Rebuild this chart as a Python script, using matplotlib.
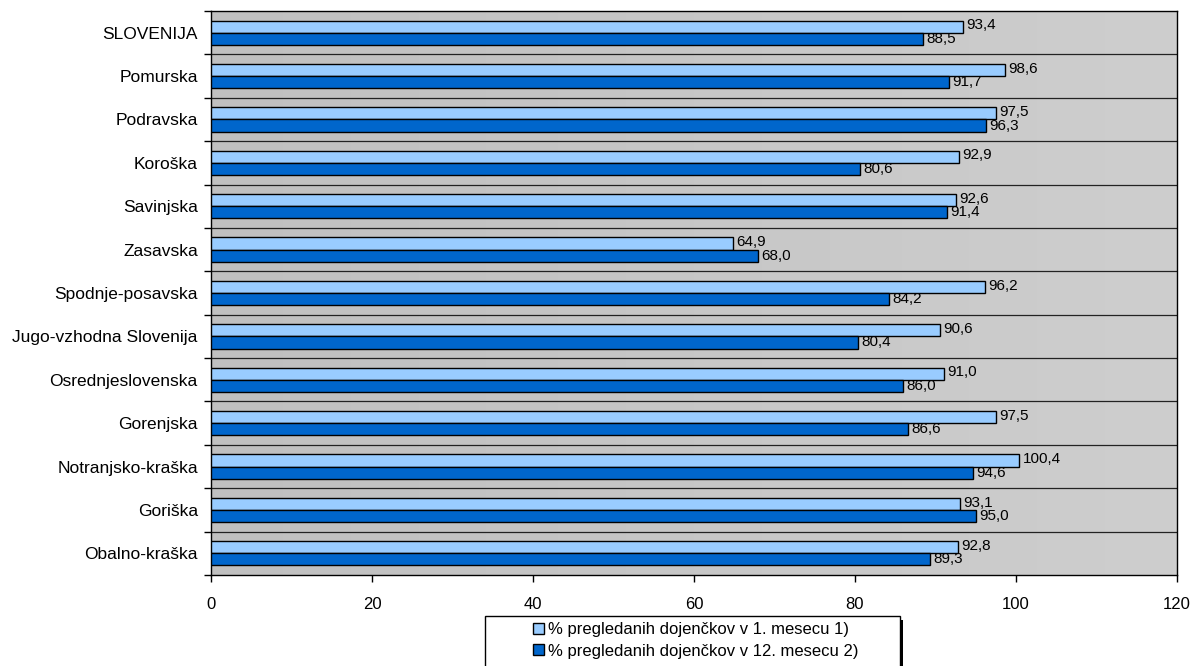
import numpy as np
import matplotlib.pyplot as plt
from matplotlib.patches import Rectangle, Patch
from matplotlib.colors import LinearSegmentedColormap

# --- DATA ---
regions = ['SLOVENIJA', 'Pomurska', 'Podravska', 'Koroška', 'Savinjska', 'Zasavska',
           'Spodnje-posavska', 'Jugo-vzhodna Slovenija', 'Osrednjeslovenska',
           'Gorenjska', 'Notranjsko-kraška', 'Goriška', 'Obalno-kraška']
month1 = [93.4, 98.6, 97.5, 92.9, 92.6, 64.9, 96.2, 90.6, 91.0, 97.5, 100.4, 93.1, 92.8]
month12 = [88.5, 91.7, 96.3, 80.6, 91.4, 68.0, 84.2, 80.4, 86.0, 86.6, 94.6, 95.0, 89.3]
series_names = ['% pregledanih dojenčkov v 1. mesecu 1)',
                '% pregledanih dojenčkov v 12. mesecu 2)']
xticks = [0, 20, 40, 60, 80, 100, 120]
# --------------

LIGHT = '#99CCFF'
DARK = '#0066CC'

plt.rcParams['font.family'] = ['Liberation Sans', 'DejaVu Sans']

W, H = 1195, 666
fig = plt.figure(figsize=(W / 100, H / 100), dpi=100)
ax = fig.add_axes([211 / W, 1 - 575 / H, (1177 - 211) / W, (575 - 11) / H])

n = len(regions)
y = np.arange(n)
bh = 0.28

# gray gradient background
grad = np.linspace(0, 1, 256).reshape(1, -1)
ax.imshow(grad, extent=[0, 120, n - 0.5, -0.5], aspect='auto',
          cmap=LinearSegmentedColormap.from_list('g', ['#C0C0C0', '#CECECE']), zorder=0)

ax.barh(y - bh / 2, month1, height=bh, color=LIGHT, edgecolor='black', linewidth=1, zorder=3)
ax.barh(y + bh / 2, month12, height=bh, color=DARK, edgecolor='black', linewidth=1, zorder=3)

for i in range(n):
    ax.text(month1[i] + 0.4, y[i] - bh / 2 - 0.03, f'{month1[i]:.1f}'.replace('.', ','),
            va='center', ha='left', fontsize=11, zorder=4)
    ax.text(month12[i] + 0.4, y[i] + bh / 2 + 0.0, f'{month12[i]:.1f}'.replace('.', ','),
            va='center', ha='left', fontsize=11, zorder=4)

# band separators
for b in np.arange(0.5, n - 0.5, 1):
    ax.axhline(b, color='#222222', linewidth=0.9, zorder=1)

ax.set_xlim(0, 120)
ax.set_ylim(n - 0.5, -0.5)
ax.set_xticks(xticks)
ax.set_xticklabels([str(t) for t in xticks], fontsize=12)
ax.set_yticks(y)
ax.set_yticklabels(regions, fontsize=12.5)
ax.set_yticks(np.arange(-0.5, n, 1), minor=True)
ax.tick_params(axis='y', which='major', length=0, pad=9.5)
ax.tick_params(axis='y', which='minor', length=5, width=1, direction='out')
ax.tick_params(axis='x', length=5, width=1, direction='out', pad=11)
for s in ax.spines.values():
    s.set_color('black')
    s.set_linewidth(1)

# legend box with shadow
lx0, lx1, ly = 485 / W, 900 / W, 1 - 616 / H
fig.patches.append(Rectangle((lx0 + 3 / W, -0.1), lx1 - lx0, ly - 4 / H + 0.1,
                             transform=fig.transFigure, facecolor='black',
                             edgecolor='none', zorder=1))
fig.patches.append(Rectangle((lx0, -0.1), lx1 - lx0, ly + 0.1,
                             transform=fig.transFigure, facecolor='white',
                             edgecolor='black', linewidth=1, zorder=2))
handles = [Patch(facecolor=LIGHT, edgecolor='black'), Patch(facecolor=DARK, edgecolor='black')]
fig.legend(handles, series_names, loc='upper left', bbox_to_anchor=(530 / W, 1 - 619 / H),
           frameon=False, fontsize=12, handlelength=0.65, handleheight=0.65,
           handletextpad=0.2, labelspacing=0.38, borderpad=0.2, borderaxespad=0)

fig.savefig('out.png', dpi=100)
